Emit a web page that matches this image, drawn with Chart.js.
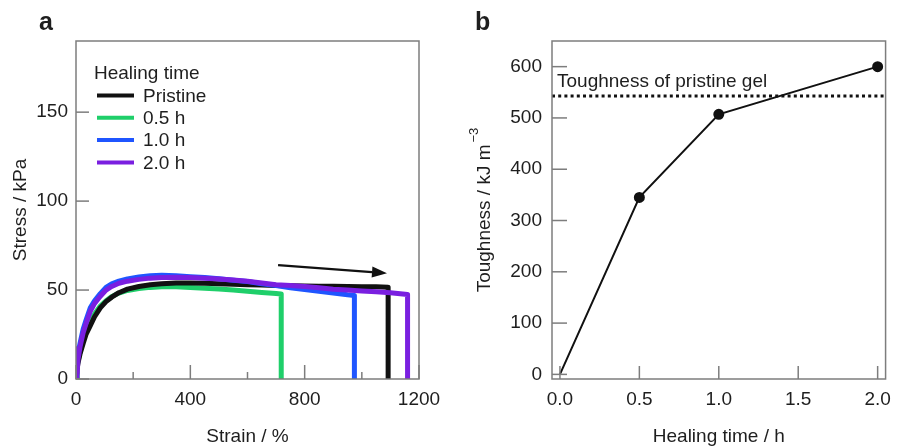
<!DOCTYPE html>
<html><head><meta charset="utf-8">
<script src="https://cdn.jsdelivr.net/npm/chart.js@4.4.1/dist/chart.umd.min.js"></script>
<style>
html,body{margin:0;padding:0;background:#fff;}
#wrap{position:relative;width:900px;height:446px;overflow:hidden;background:#fff;}
canvas{position:absolute;top:0;}
#ca{left:0;} #cb{left:450px;}
</style></head><body>
<div id="wrap"><canvas id="ca" width="450" height="446"></canvas><canvas id="cb" width="450" height="446"></canvas></div>
<script>
const FONT = '"Liberation Sans", Arial, Helvetica, sans-serif';

// ---------- Panel a data ----------
const seriesLabels = ['Pristine', '0.5 h', '1.0 h', '2.0 h'];
const seriesColors = ['#111111', '#1fcf6a', '#1f55ff', '#7a1fe0'];

const pristineStrain = [0,3,7,14,25,35,50,65,85,105,125,150,180,220,260,300,350,400,450,500,550,600,650,700,750,800,850,900,950,1000,1050,1092,1092];
const pristineStress = [0,5,9,14,20,25,30,35,40,43.5,46,48.5,50.5,52,53,53.5,54,54,53.8,53.5,53.2,53,52.8,52.6,52.4,52.3,52.2,52.1,52,51.9,51.8,51.6,0];

const h05Strain = [0,3,7,14,25,35,50,65,85,105,125,150,180,220,260,300,350,400,450,500,550,600,650,700,718,718];
const h05Stress = [0,6,10,15,22,27,32,36.5,41,44,46.3,48.3,49.8,50.8,51.5,51.8,51.8,51.5,51,50.6,50,49.3,48.6,48,47.8,0];

const h10Strain = [0,3,7,14,25,35,50,65,85,105,125,150,180,220,260,300,350,400,450,500,550,600,650,700,750,800,850,900,950,974,974];
const h10Stress = [0,8,14,20,28,33,40,44,48,51.5,53.5,55,56.3,57.3,58,58.3,58,57.5,57,56.3,55.5,54.8,53.5,52.5,51.3,50.3,49.3,48.3,47.3,47,0];

const h20Strain = [0,1,3,4,7,14,25,35,50,65,85,105,125,150,180,220,260,300,350,400,450,500,550,600,650,700,750,800,850,900,950,1000,1050,1100,1160,1160];
const h20Stress = [0,17,16,3,11,18,26,31,38,42.5,46.5,50,52,53.8,55,56,56.7,57,57.2,57,56.7,56.2,55.6,55,54,53,52.5,52,51.3,50.5,50,49.5,49,48.5,47.5,0];

const strainTicksMajor = [0, 400, 800, 1200];
const strainTicksMinor = [200, 600, 1000];
const stressTicks = [0, 50, 100, 150];
const arrowStart = [707, 64];
const arrowEnd = [1088, 59.5];

// ---------- Panel b data ----------
const healingTime = [0, 0.5, 1.0, 2.0];
const toughness = [0, 345, 507, 600];
const pristineToughness = 543;
const timeTicks = [0, 0.5, 1.0, 1.5, 2.0];
const toughTicks = [0, 100, 200, 300, 400, 500, 600];

const zip = (xs, ys) => xs.map((x, i) => ({x: x, y: ys[i]}));
const BOX = '#7d7d7d';
const TXT = '#1e1e1e';

function drawBox(ctx, a) {
  ctx.save();
  ctx.strokeStyle = BOX; ctx.lineWidth = 1.5;
  ctx.strokeRect(a.left, a.top, a.right - a.left, a.bottom - a.top);
  ctx.restore();
}

// ---------- Panel a ----------
const pluginA = {
  id: 'decorA',
  afterDraw(chart) {
    const ctx = chart.ctx, a = chart.chartArea;
    const xs = chart.scales.x, ys = chart.scales.y;
    drawBox(ctx, a);
    ctx.save();
    ctx.strokeStyle = BOX; ctx.lineWidth = 1.5;
    stressTicks.forEach(v => { const y = ys.getPixelForValue(v); ctx.beginPath(); ctx.moveTo(a.left, y); ctx.lineTo(a.left + 13, y); ctx.stroke(); });
    strainTicksMajor.forEach(v => { const x = xs.getPixelForValue(v); ctx.beginPath(); ctx.moveTo(x, a.bottom); ctx.lineTo(x, a.bottom - 14); ctx.stroke(); });
    strainTicksMinor.forEach(v => { const x = xs.getPixelForValue(v); ctx.beginPath(); ctx.moveTo(x, a.bottom); ctx.lineTo(x, a.bottom - 7); ctx.stroke(); });
    // arrow
    const x1 = xs.getPixelForValue(arrowStart[0]), y1 = ys.getPixelForValue(arrowStart[1]);
    const x2 = xs.getPixelForValue(arrowEnd[0]), y2 = ys.getPixelForValue(arrowEnd[1]);
    const ang = Math.atan2(y2 - y1, x2 - x1), hl = 15, hw = 5.5;
    const bx = x2 - hl * Math.cos(ang), by = y2 - hl * Math.sin(ang);
    ctx.strokeStyle = '#111'; ctx.fillStyle = '#111'; ctx.lineWidth = 2.2;
    ctx.beginPath(); ctx.moveTo(x1, y1); ctx.lineTo(bx, by); ctx.stroke();
    ctx.beginPath(); ctx.moveTo(x2, y2);
    ctx.lineTo(bx + hw * Math.sin(ang), by - hw * Math.cos(ang));
    ctx.lineTo(bx - hw * Math.sin(ang), by + hw * Math.cos(ang));
    ctx.closePath(); ctx.fill();
    // legend
    ctx.fillStyle = TXT; ctx.font = '19px ' + FONT; ctx.textBaseline = 'middle'; ctx.textAlign = 'left';
    ctx.fillText('Healing time', 94, 74);
    seriesLabels.forEach((lab, i) => {
      const y = 95.5 + i * 22.3;
      ctx.strokeStyle = seriesColors[i]; ctx.lineWidth = 4;
      ctx.beginPath(); ctx.moveTo(97, y); ctx.lineTo(134, y); ctx.stroke();
      ctx.fillText(lab, 143, y + 1);
    });
    // axis titles
    ctx.textAlign = 'center'; ctx.textBaseline = 'alphabetic';
    ctx.fillText('Strain / %', (a.left + a.right) / 2, 442);
    ctx.save();
    ctx.translate(26, (a.top + a.bottom) / 2); ctx.rotate(-Math.PI / 2);
    ctx.fillText('Stress / kPa', 0, 0);
    ctx.restore();
    // panel label
    ctx.font = 'bold 25px ' + FONT; ctx.textAlign = 'left';
    ctx.fillText('a', 39, 30);
    ctx.restore();
  }
};

const lineDs = (label, xs, ys, color, order) => ({
  label: label, data: zip(xs, ys), borderColor: color, backgroundColor: color,
  borderWidth: 5, pointRadius: 0, showLine: true, tension: 0, order: order,
  borderJoinStyle: 'round'
});

new Chart(document.getElementById('ca'), {
  type: 'scatter',
  data: { datasets: [
    lineDs(seriesLabels[3], h20Strain, h20Stress, seriesColors[3], 1),
    lineDs(seriesLabels[2], h10Strain, h10Stress, seriesColors[2], 2),
    lineDs(seriesLabels[0], pristineStrain, pristineStress, seriesColors[0], 3),
    lineDs(seriesLabels[1], h05Strain, h05Stress, seriesColors[1], 4)
  ]},
  options: {
    responsive: false, animation: false, devicePixelRatio: 1,
    layout: { padding: { left: 0, right: 31, top: 41, bottom: 0 } },
    plugins: { legend: { display: false }, tooltip: { enabled: false } },
    scales: {
      x: { type: 'linear', min: 0, max: 1200,
        afterBuildTicks: s => { s.ticks = strainTicksMajor.map(v => ({value: v})); },
        afterFit: s => { s.height = 67; },
        grid: { display: false, drawTicks: false }, border: { display: false },
        ticks: { padding: 9, maxRotation: 0, color: TXT, font: { family: FONT, size: 19 }, callback: v => String(v) } },
      y: { type: 'linear', min: 0, max: 190,
        afterBuildTicks: s => { s.ticks = stressTicks.map(v => ({value: v})); },
        afterFit: s => { s.width = 76; },
        grid: { display: false, drawTicks: false }, border: { display: false },
        ticks: { padding: 8, color: TXT, font: { family: FONT, size: 19 }, callback: v => String(v) } }
    }
  },
  plugins: [pluginA]
});

// ---------- Panel b ----------
const pluginB = {
  id: 'decorB',
  afterDraw(chart) {
    const ctx = chart.ctx, a = chart.chartArea;
    const xs = chart.scales.x, ys = chart.scales.y;
    drawBox(ctx, a);
    ctx.save();
    ctx.strokeStyle = BOX; ctx.lineWidth = 1.5;
    toughTicks.forEach(v => { const y = ys.getPixelForValue(v); ctx.beginPath(); ctx.moveTo(a.left, y); ctx.lineTo(a.left + 15, y); ctx.stroke(); });
    timeTicks.forEach(v => { const x = xs.getPixelForValue(v); ctx.beginPath(); ctx.moveTo(x, a.bottom); ctx.lineTo(x, a.bottom - 13); ctx.stroke(); });
    ctx.fillStyle = TXT; ctx.font = '19px ' + FONT; ctx.textBaseline = 'alphabetic'; ctx.textAlign = 'left';
    ctx.fillText('Toughness of pristine gel', a.left + 5, 87);
    ctx.textAlign = 'center';
    ctx.fillText('Healing time / h', (a.left + a.right) / 2, 442);
    // rotated y title with superscript
    const main = 'Toughness / kJ m', sup = '\u22123';
    ctx.font = '19px ' + FONT; const wm = ctx.measureText(main).width;
    ctx.font = '13px ' + FONT; const ws = ctx.measureText(sup).width;
    const tot = wm + 2 + ws;
    ctx.save();
    ctx.translate(40, (a.top + a.bottom) / 2); ctx.rotate(-Math.PI / 2);
    ctx.textAlign = 'left';
    ctx.font = '19px ' + FONT; ctx.fillText(main, -tot / 2, 0);
    ctx.font = '13px ' + FONT; ctx.fillText(sup, -tot / 2 + wm + 2, -12);
    ctx.restore();
    ctx.font = 'bold 25px ' + FONT; ctx.textAlign = 'left';
    ctx.fillText('b', 25, 30);
    ctx.restore();
  }
};

new Chart(document.getElementById('cb'), {
  type: 'scatter',
  data: { datasets: [
    { label: 'Toughness', data: zip(healingTime, toughness), borderColor: '#111', backgroundColor: '#111',
      borderWidth: 2, showLine: true, tension: 0, pointRadius: [0, 4.5, 4.5, 4.5], pointHoverRadius: 0, order: 1 },
    { label: 'Pristine gel', data: [{x: -0.05, y: pristineToughness}, {x: 2.05, y: pristineToughness}],
      borderColor: '#111', borderWidth: 3, borderDash: [3, 3.2], showLine: true, pointRadius: 0, order: 2 }
  ]},
  options: {
    responsive: false, animation: false, devicePixelRatio: 1,
    layout: { padding: { left: 0, right: 6, top: 41, bottom: 0 } },
    plugins: { legend: { display: false }, tooltip: { enabled: false } },
    scales: {
      x: { type: 'linear', min: -0.05, max: 2.05,
        afterBuildTicks: s => { s.ticks = timeTicks.map(v => ({value: v})); },
        afterFit: s => { s.height = 67; },
        grid: { display: false, drawTicks: false }, border: { display: false },
        ticks: { padding: 9, maxRotation: 0, color: TXT, font: { family: FONT, size: 19 }, callback: v => Number(v).toFixed(1) } },
      y: { type: 'linear', min: -9, max: 650,
        afterBuildTicks: s => { s.ticks = toughTicks.map(v => ({value: v})); },
        afterFit: s => { s.width = 102; },
        grid: { display: false, drawTicks: false }, border: { display: false },
        ticks: { padding: 10, color: TXT, font: { family: FONT, size: 19 }, callback: v => String(v) } }
    }
  },
  plugins: [pluginB]
});
</script>
</body></html>
